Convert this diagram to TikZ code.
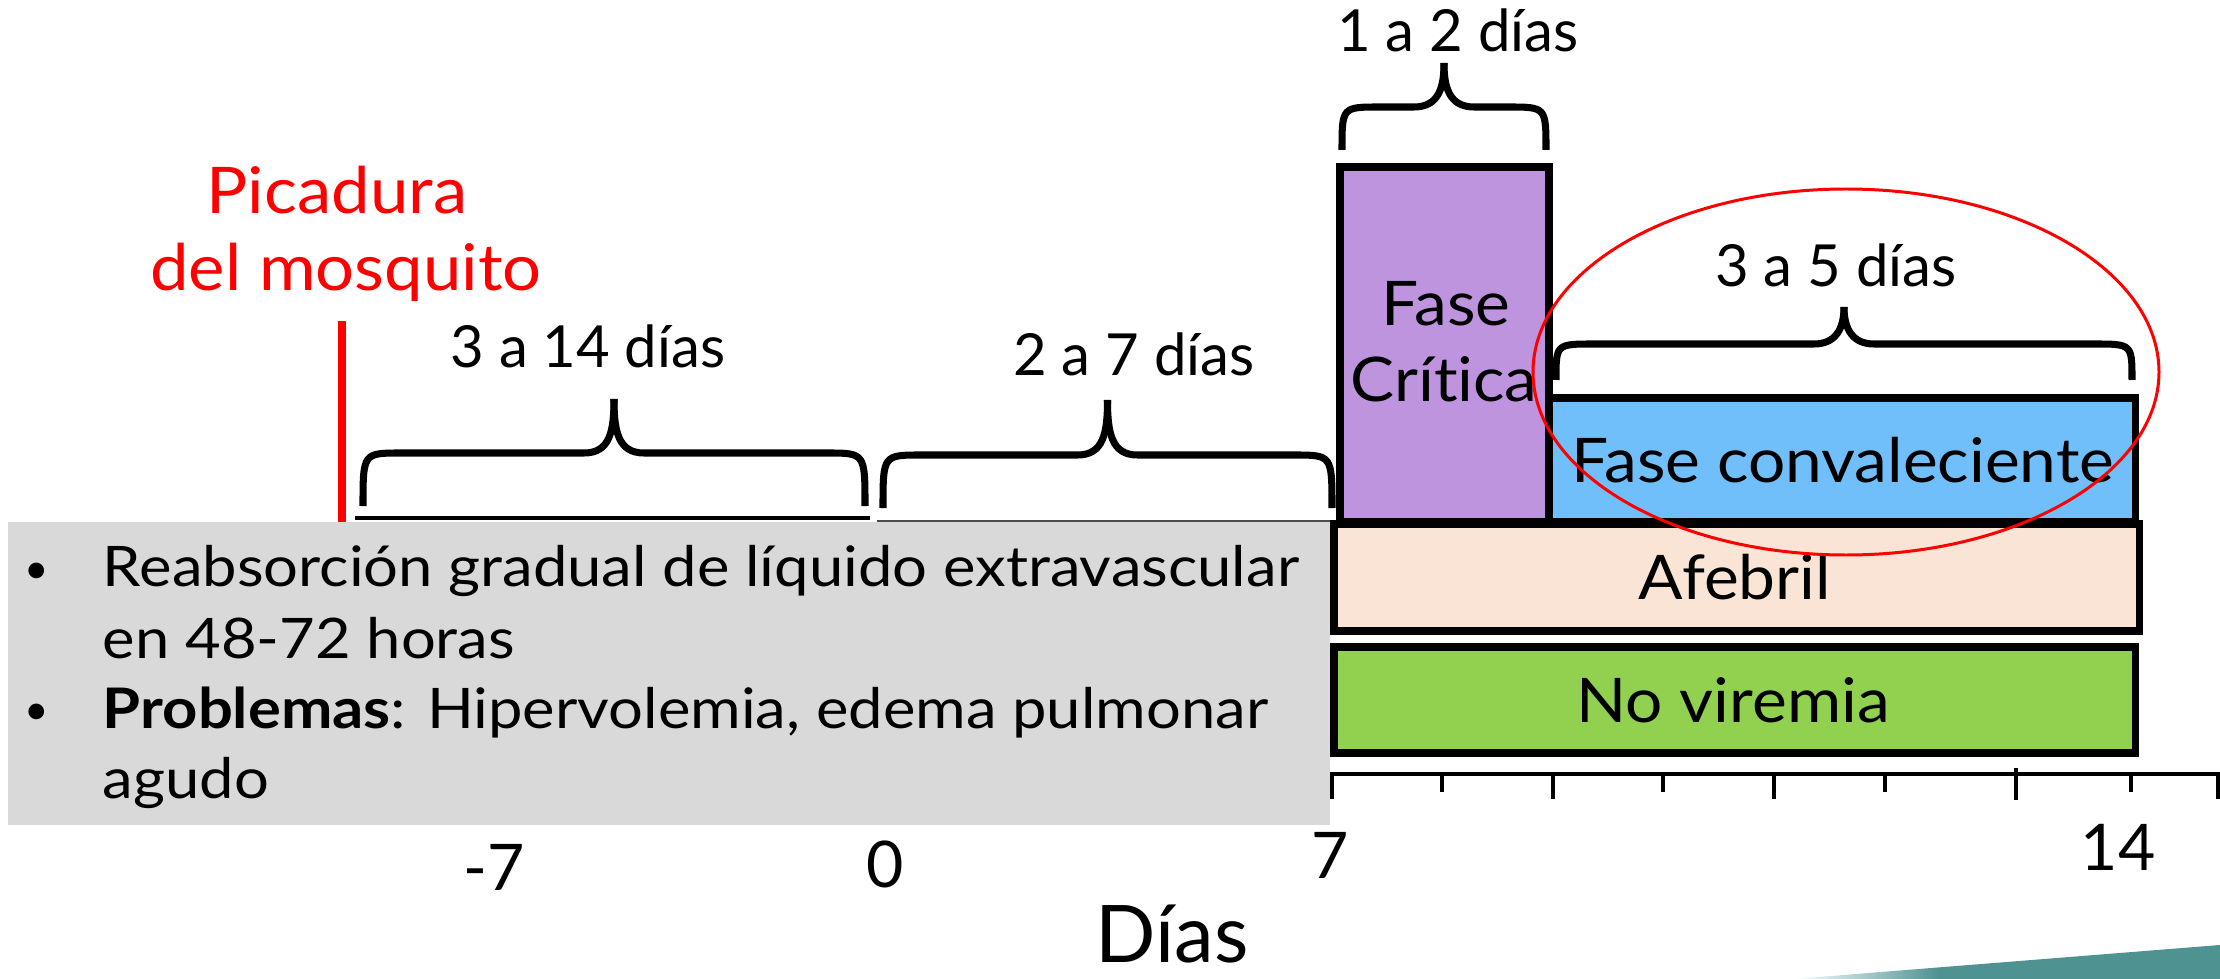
\documentclass[tikz,border=0pt]{standalone}
\usepackage{fontspec}
\setmainfont{Lato}[Ligatures=NoCommon]
\newfontfamily\widesans{Lato}[FakeStretch=1.1, Ligatures=NoCommon]
\newfontfamily\midsans{Lato}[FakeStretch=1.07, Ligatures=NoCommon]
\usepackage{xcolor}
\usepackage{tikz}
\usetikzlibrary{positioning}

\definecolor{critcol}{HTML}{BF94DE}
\definecolor{convcol}{HTML}{70BEFA}
\definecolor{afebcol}{HTML}{FAE4D6}
\definecolor{viremcol}{HTML}{92D050}
\definecolor{panelcol}{HTML}{D9D9D9}
\definecolor{tealcol}{HTML}{4E9292}

\pgfdeclarehorizontalshading{tealfade}{100bp}{color(0bp)=(white); color(25bp)=(white); color(42bp)=(tealcol); color(100bp)=(tealcol)}

\begin{document}
\begin{tikzpicture}[x=0.01cm, y=-0.01cm,
    every node/.style={inner sep=0pt, outer sep=0pt},
    phasebox/.style={draw=black, line width=2pt},
    bracestroke/.style={line width=2pt, line join=round},
    spanlabel/.style={anchor=base, font=\fontsize{16.5}{20}\selectfont},
    boxlabel/.style={anchor=base, font=\midsans\fontsize{17.5}{21}\selectfont},
    daylabel/.style={anchor=base, font=\fontsize{18.3}{22}\selectfont},
    bodytext/.style={anchor=base west, font=\widesans\fontsize{15.9}{20}\selectfont}]

    \useasboundingbox (0,0) rectangle (2220,979);

    % Mosquito bite
    \draw[red, line width=2pt] (342,321) -- (342,522);
    \node[anchor=base, red, font=\midsans\fontsize{18.3}{22}\selectfont] (picadura) at (337,214) {Picadura};
    \node[anchor=base, red, font=\midsans\fontsize{18.3}{22}\selectfont] (mosquito) at (346,291) {del mosquito};

    % Lines under the first braces
    \draw[line width=1.4pt] (355,518) -- (870,518);
    \draw[line width=0.4pt, black!70] (877,521) -- (1337,521);

    % Braces: left / right / bottom / arm / tip
    \foreach \xl/\xr/\yb/\ya/\yt in {363/865/506/453/399, 883/1332/508/455/400,
                                    1342/1546/150/107/63, 1556/2132/380/344/307} {
        \pgfmathsetmacro{\xm}{(\xl+\xr)/2}
        \draw[bracestroke] (\xl,\yb) .. controls (\xl,\ya) .. (\xl+38,\ya) -- (\xm-30,\ya)
            .. controls (\xm-4,\ya) and (\xm,\ya-22) .. (\xm,\yt);
        \draw[bracestroke] (\xr,\yb) .. controls (\xr,\ya) .. (\xr-38,\ya) -- (\xm+30,\ya)
            .. controls (\xm+4,\ya) and (\xm,\ya-22) .. (\xm,\yt);
    }
    \node[spanlabel] (incub) at (588,367) {3 a 14 días};
    \node[spanlabel] (febril) at (1134,376) {2 a 7 días};
    \node[spanlabel] (critdur) at (1458,52) {1 a 2 días};
    \node[spanlabel] (convdur) at (1836,287) {3 a 5 días};

    % Phase boxes
    \draw[phasebox, fill=critcol] (1340,167) rectangle (1549,522);
    \draw[phasebox, fill=convcol] (1549,398) rectangle (2135,522);
    \draw[phasebox, fill=afebcol] (1334,524) rectangle (2139,631);
    \draw[phasebox, fill=viremcol] (1334,647) rectangle (2135,753);
    \node[boxlabel] (fase) at (1446,326) {Fase};
    \node[boxlabel] (critica) at (1444,402) {Crítica};
    \node[boxlabel] (convaleciente) at (1843,482) {Fase convaleciente};
    \node[boxlabel] (afebril) at (1735,600) {Afebril};
    \node[boxlabel] (noviremia) at (1733,722) {No viremia};

    % Highlight
    \draw[red, line width=0.85pt] (1846,372) ellipse [x radius=313, y radius=183];

    % Notes panel
    \fill[panelcol] (8,522) rectangle (1330,825);
    \node[anchor=base, font=\fontsize{12}{14}\selectfont] (dotA) at (37,583) {•};
    \node[anchor=base, font=\fontsize{12}{14}\selectfont] (dotB) at (37,724) {•};
    \node[bodytext] (lineA) at (103,587) {Reabsorción gradual de líquido extravascular};
    \node[bodytext] (lineB) at (103,658) {en 48-72 horas};
    \node[bodytext] (lineC) at (103,728) {\textbf{Problemas}: Hipervolemia, edema pulmonar};
    \node[bodytext] (lineD) at (103,798) {agudo};

    % Time axis
    \draw[line width=1.4pt] (1330,774) -- (2220,774);
    \foreach \tx/\te in {1332/799, 1442/792, 1553/799, 1663/792, 1774/799, 1885/792, 2131/792, 2218/799}
        \draw[line width=1.4pt] (\tx,774) -- (\tx,\te);
    \draw[line width=1.4pt] (2016,768) -- (2016,800);
    \node[daylabel] (dminus) at (494,890) {-7};
    \node[daylabel] (dzero) at (885,887) {0};
    \node[daylabel] (dseven) at (1330,878) {7};
    \node[daylabel] (dfourteen) at (2118,870) {14};
    \node[anchor=base, font=\fontsize{22.6}{26}\selectfont] (dias) at (1172,962) {Días};

    % Corner band
    \shade[shading=tealfade] (1793,979) -- (2220,945) -- (2220,979) -- cycle;

\end{tikzpicture}
\end{document}
